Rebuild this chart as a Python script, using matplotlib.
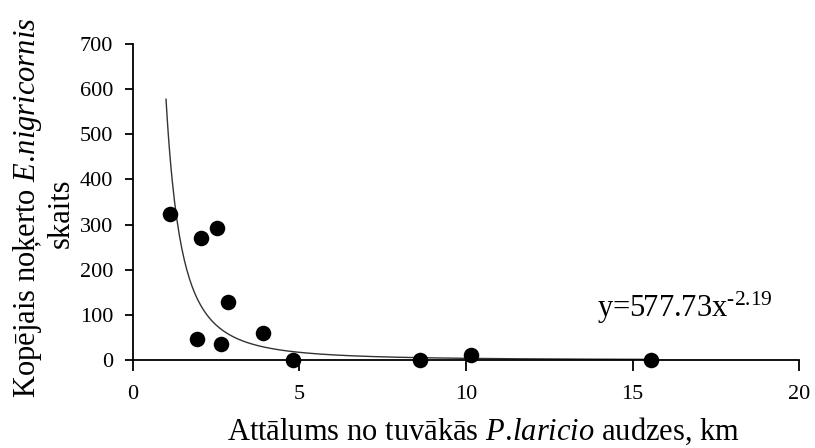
import numpy as np
import matplotlib
matplotlib.use("Agg")
import matplotlib.pyplot as plt

plt.rcParams["font.family"] = ["Liberation Serif", "DejaVu Serif"]
plt.rcParams["mathtext.fontset"] = "custom"
plt.rcParams["mathtext.rm"] = "Liberation Serif"
plt.rcParams["mathtext.it"] = "Liberation Serif:italic"

# Distance to nearest P. laricio stand (km) and total E. nigricornis caught
distance_km = [1.12, 1.93, 2.04, 2.54, 2.64, 2.85, 3.92, 4.82, 8.62, 10.14, 15.54]
beetle_count = [323, 47, 270, 292, 35, 128, 59, 0, 0, 11, 0]

# Power-law trend: y = a * x^b
coef_a = 577.73
coef_b = -2.19

x_ticks = [0, 5, 10, 15, 20]
y_ticks = [0, 100, 200, 300, 400, 500, 600, 700]

fig = plt.figure(figsize=(8.15, 4.48), dpi=100)
ax = fig.add_axes([0.1628, 0.1964, 0.818, 0.7054])

xs = np.linspace(1.0, 15.6, 400)
ax.plot(xs, coef_a * xs ** coef_b, color="#333333", lw=1.0, zorder=2)
ax.scatter(distance_km, beetle_count, s=125, color="black", zorder=3,
           clip_on=False, linewidths=0)

ax.set_xlim(0, 20)
ax.set_ylim(0, 700)
ax.set_xticks(x_ticks)
ax.set_yticks(y_ticks)
ax.set_xticklabels([str(t) for t in x_ticks])
ax.set_yticklabels([str(t) for t in y_ticks])

for side in ("top", "right"):
    ax.spines[side].set_visible(False)
for side in ("left", "bottom"):
    ax.spines[side].set_linewidth(1.3)
    ax.spines[side].set_color("black")

ax.tick_params(axis="x", direction="out", length=8, width=1.3, pad=10,
               labelsize=16)
ax.tick_params(axis="y", direction="out", length=6, width=1.3, pad=8,
               labelsize=16)

ax.text(13.93, 96, r"y=577.73x$^{\text{-2.19}}$", fontsize=22,
        ha="left", va="baseline")

fig.text(0.593, 0.018,
         r"Attālums no tuvākās $\mathit{P.\!laricio}$ audzes, km",
         fontsize=22, ha="center", va="baseline")
fig.text(0.034, 0.536, r"Kopējais noķerto $\mathit{E.\!nigricornis}$",
         fontsize=22, rotation=90, ha="center", va="center")
fig.text(0.075, 0.525, "skaits", fontsize=22, rotation=90,
         ha="center", va="center")

fig.savefig("out.png", dpi=100)
